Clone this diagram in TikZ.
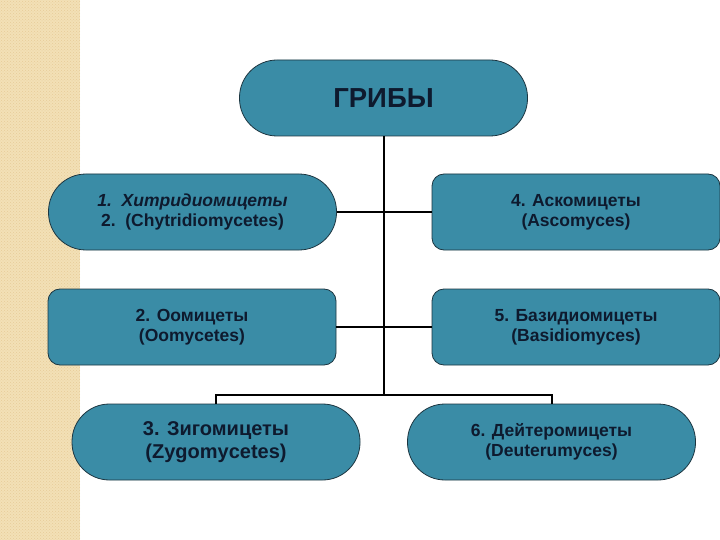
\documentclass[tikz,border=0pt]{standalone}
\usepackage{fontspec}
\setmainfont{Liberation Sans}
\usetikzlibrary{patterns}
\definecolor{beige}{HTML}{F3E0B6}
\definecolor{beigedot}{HTML}{E6CC98}
\definecolor{tealfill}{HTML}{3A8CA6}
\definecolor{boxline}{HTML}{1C3540}
\definecolor{navy}{HTML}{0E1A2E}
\begin{document}
\begin{tikzpicture}[x=1pt,y=-1pt,
  box/.style={draw=boxline, line width=0.8pt, fill=tealfill, minimum width=288pt,
    minimum height=76pt, rounded corners=12pt, align=center, text=navy,
    font=\fontsize{17.5}{20}\selectfont\bfseries},
  pill/.style={box, rounded corners=37.5pt},
  conn/.style={draw=black, line width=2pt}]
\useasboundingbox (0,0) rectangle (720,540);
\fill[white] (0,0) rectangle (720,540);
\fill[beige] (0,0) rectangle (80,540);
\fill[pattern=crosshatch dots, pattern color=beigedot] (0,0) rectangle (80,540);
\coordinate (j) at (383.5,395);
\node[pill, font=\fontsize{27.5}{30}\selectfont\bfseries] (top) at (383.5,98) {ГРИБЫ};
\node[pill] (n1) at (192.5,212) {\textit{1.\ \ Хитридиомицеты}\\2.\ \ (Chytridiomycetes)};
\node[box] (n4) at (576,212) {4. Аскомицеты\\(Ascomyces)};
\node[box] (n2) at (192,327) {2. Оомицеты\\(Oomycetes)};
\node[box] (n5) at (576,327) {5. Базидиомицеты\\(Basidiomyces)};
\node[pill, font=\fontsize{20}{23}\selectfont\bfseries] (n3) at (216,442) {3. Зигомицеты\\(Zygomycetes)};
\node[pill] (n6) at (551.5,442) {6. Дейтеромицеты\\(Deuterumyces)};
\draw[conn] (top.south) -- (j);
\draw[conn] (n1.east) -- (n1.east -| j) -- (n4.west);
\draw[conn] (n2.east) -- (n2.east -| j) -- (n5.west);
\draw[conn] (n3.north) |- (j) -| (n6.north);
\end{tikzpicture}
\end{document}
